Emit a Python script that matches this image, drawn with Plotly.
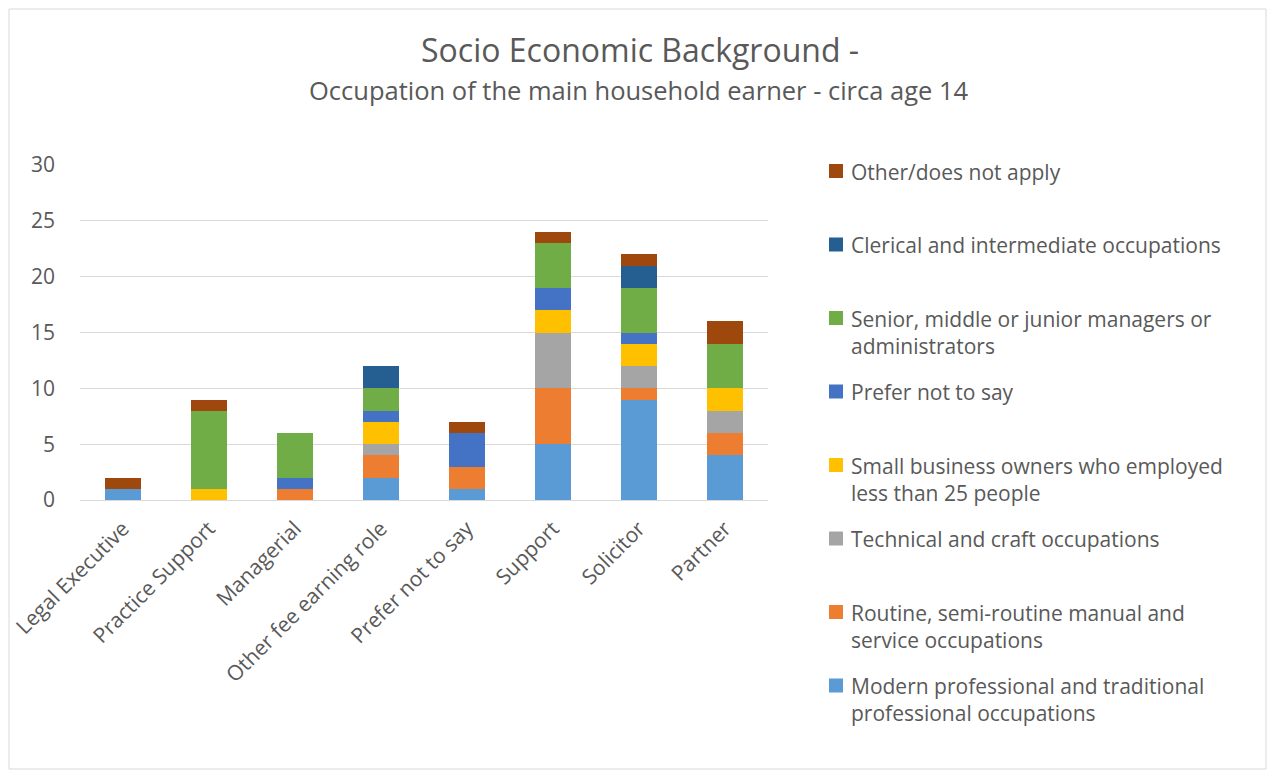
import plotly.graph_objects as go

categories = ["Legal Executive", "Practice Support", "Managerial", "Other fee earning role",
              "Prefer not to say", "Support", "Solicitor", "Partner"]

series_names = [
    "Modern professional and traditional<br>professional occupations",
    "Routine, semi-routine manual and<br>service occupations",
    "Technical and craft occupations",
    "Small business owners who employed<br>less than 25 people",
    "Prefer not to say",
    "Senior, middle or junior managers or<br>administrators",
    "Clerical and intermediate occupations",
    "Other/does not apply",
]

modern    = [1, 0, 0, 2, 1, 5, 9, 4]
routine   = [0, 0, 1, 2, 2, 5, 1, 2]
technical = [0, 0, 0, 1, 0, 5, 2, 2]
small_biz = [0, 1, 0, 2, 0, 2, 2, 2]
prefer    = [0, 0, 1, 1, 3, 2, 1, 0]
senior    = [0, 7, 4, 2, 0, 4, 4, 4]
clerical  = [0, 0, 0, 2, 0, 0, 2, 0]
other     = [1, 1, 0, 0, 1, 1, 1, 2]

series_values = [modern, routine, technical, small_biz, prefer, senior, clerical, other]
colors = ["#5B9BD5", "#ED7D31", "#A5A5A5", "#FFC000", "#4472C4", "#70AD47", "#255E91", "#9E480E"]

OFF = 8  # browser body margin
W, H = 1275 - 2 * OFF, 778 - 2 * OFF
L, R, T, B = 80 - OFF, 768 - OFF, 165 - OFF, 500 - OFF  # plot area in figure pixels
FONT = "Open Sans"
TXT = "#595959"

def px_x(px):  # px given in page coordinates
    return (px - OFF - L) / (R - L)

def px_y(py):
    return (B - (py - OFF)) / (B - T)

fig = go.Figure()
for name, vals, col in zip(series_names, series_values, colors):
    fig.add_trace(go.Bar(x=categories, y=vals, name=name, marker_color=col,
                         marker_line_width=0, showlegend=False))

annotations = []
shapes = []
# Titles
annotations.append(dict(text="Socio Economic Background -", x=px_x(640), y=px_y(50),
                        xref="paper", yref="paper", xanchor="center", yanchor="middle", showarrow=False,
                        font=dict(family=FONT, size=32, color=TXT)))
annotations.append(dict(text="Occupation of the main household earner - circa age 14", x=px_x(639), y=px_y(90),
                        xref="paper", yref="paper", xanchor="center", yanchor="middle", showarrow=False,
                        font=dict(family=FONT, size=25.5, color=TXT)))

# Custom legend (top entry first)
order = list(range(len(series_names)))[::-1]
for i, idx in enumerate(order):
    cy = 171 + i * 73.5
    shapes.append(dict(type="rect", xref="paper", yref="paper",
                       x0=px_x(829), x1=px_x(843), y0=px_y(cy + 7), y1=px_y(cy - 7),
                       fillcolor=colors[idx], line_width=0))
    annotations.append(dict(text=series_names[idx], x=px_x(849), y=px_y(cy - 15.5),
                            xref="paper", yref="paper", xanchor="left", yanchor="top",
                            align="left", showarrow=False,
                            font=dict(family=FONT, size=21, color=TXT)))

# chart border
shapes.append(dict(type="rect", xref="paper", yref="paper",
                   x0=px_x(OFF + 1), x1=px_x(OFF + W - 1), y0=px_y(OFF + H - 1), y1=px_y(OFF + 1),
                   line=dict(color="#D9D9D9", width=1), fillcolor="rgba(0,0,0,0)", layer="below"))

fig.update_layout(
    barmode="stack",
    bargap=0.59,
    width=W, height=H,
    margin=dict(l=L, r=W - R, t=T, b=H - B, autoexpand=False),
    paper_bgcolor="white", plot_bgcolor="white",
    font=dict(family=FONT, color=TXT),
    annotations=annotations,
    shapes=shapes,
    xaxis=dict(tickangle=-45, tickfont=dict(size=21, color=TXT), showgrid=False, automargin=False,
               showline=True, linecolor="#D9D9D9", linewidth=1, ticks="", ticklabelstandoff=7),
    yaxis=dict(range=[0, 30], dtick=5, tickfont=dict(size=21, color=TXT), automargin=False,
               gridcolor="#D9D9D9", gridwidth=1, zeroline=False, showline=False,
               ticklabelstandoff=24),
)

fig.write_html("out.html")
